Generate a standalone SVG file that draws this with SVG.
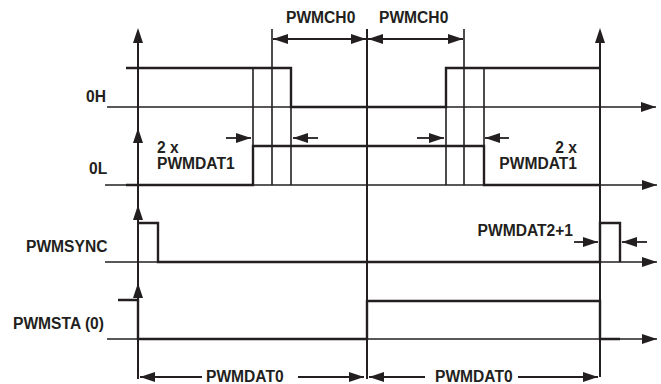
<svg xmlns="http://www.w3.org/2000/svg" width="661" height="384" viewBox="0 0 661 384">
<style>
text{font-family:"Liberation Sans",Arial,sans-serif;font-weight:bold;font-size:15.6px;fill:#231f20}
.ax{stroke:#231f20;stroke-width:1.3;fill:none}
.vax{stroke:#231f20;stroke-width:2;fill:none}
.sig{stroke:#231f20;stroke-width:2.4;fill:none;stroke-linejoin:miter}
.mk{stroke:#231f20;stroke-width:1.6;fill:none}
.dim{stroke:#231f20;stroke-width:1.8;fill:none}
.ah{fill:#231f20}
</style>
<defs>
<marker id="arr" markerUnits="userSpaceOnUse" markerWidth="15" markerHeight="10" refX="15" refY="5" orient="auto-start-reverse" viewBox="0 0 15 10">
<path d="M0,0 L15,5 L0,10 z" fill="#231f20"/>
</marker>
<path id="up" d="M0,0 L5,15 L-5,15 z"/>
</defs>
<rect width="661" height="384" fill="#fff"/>
<g id="axes">
<line class="ax" x1="107" y1="107" x2="656" y2="107" marker-end="url(#arr)"/>
<line class="ax" x1="105" y1="185" x2="657" y2="185" marker-end="url(#arr)"/>
<line class="ax" x1="105" y1="262" x2="657" y2="262" marker-end="url(#arr)"/>
<line class="ax" x1="107" y1="339" x2="657" y2="339" marker-end="url(#arr)"/>
<line class="vax" x1="138" y1="379" x2="138" y2="36"/>
<use href="#up" x="138" y="28" class="ah"/>
<use href="#up" x="138" y="128" class="ah"/>
<use href="#up" x="138" y="205" class="ah"/>
<use href="#up" x="138" y="283" class="ah"/>
<line class="vax" x1="600" y1="377" x2="600" y2="36"/>
<use href="#up" x="600" y="28" class="ah"/>
</g>
<g id="markers">
<line class="mk" x1="253" y1="68" x2="253" y2="185"/>
<line class="mk" x1="272" y1="29" x2="272" y2="185"/>
<line class="mk" x1="291" y1="68" x2="291" y2="185"/>
<line class="vax" x1="367" y1="29" x2="367" y2="379"/>
<line class="mk" x1="446" y1="68" x2="446" y2="185"/>
<line class="mk" x1="464" y1="29" x2="464" y2="185"/>
<line class="mk" x1="484" y1="68" x2="484" y2="185"/>
</g>
<g id="signal-0H">
<path class="sig" d="M126,68 H291 V107 H446 V68 H600"/>
<text x="86" y="102">0H</text>
</g>
<g id="signal-0L">
<path class="sig" d="M126,185 H253 V146 H484 V185 H600"/>
<text x="89" y="174">0L</text>
</g>
<g id="signal-PWMSYNC">
<path class="sig" d="M138,223 H158 V262 H600 V223 H620 V262"/>
<text x="26" y="252">PWMSYNC</text>
</g>
<g id="signal-PWMSTA">
<path class="sig" d="M118,300 H138 V339 H367 V301 H600 V339 H620"/>
<text x="13" y="329">PWMSTA (0)</text>
</g>
<g id="connectors">
<line class="dim" x1="273" y1="39" x2="366" y2="39" marker-start="url(#arr)" marker-end="url(#arr)"/>
<line class="dim" x1="368" y1="39" x2="463" y2="39" marker-start="url(#arr)" marker-end="url(#arr)"/>
<line class="dim" x1="226" y1="138" x2="251" y2="138" marker-end="url(#arr)"/>
<line class="dim" x1="318" y1="138" x2="293" y2="138" marker-end="url(#arr)"/>
<line class="dim" x1="417" y1="138" x2="444" y2="138" marker-end="url(#arr)"/>
<line class="dim" x1="509" y1="138" x2="485" y2="138" marker-end="url(#arr)"/>
<line class="dim" x1="574" y1="242" x2="598" y2="242" marker-end="url(#arr)"/>
<line class="dim" x1="647" y1="242" x2="622" y2="242" marker-end="url(#arr)"/>
<line class="dim" x1="202" y1="377" x2="140" y2="377" marker-end="url(#arr)"/>
<line class="dim" x1="298" y1="377" x2="364" y2="377" marker-end="url(#arr)"/>
<line class="dim" x1="425" y1="377" x2="369" y2="377" marker-end="url(#arr)"/>
<line class="dim" x1="518" y1="377" x2="598" y2="377" marker-end="url(#arr)"/>
</g>
<g id="labels">
<text x="286" y="23">PWMCH0</text>
<text x="379" y="23">PWMCH0</text>
<text x="157" y="153">2 x</text>
<text x="157" y="168.5">PWMDAT1</text>
<text x="577" y="153" text-anchor="end">2 x</text>
<text x="577" y="168.5" text-anchor="end">PWMDAT1</text>
<text x="573" y="236" text-anchor="end">PWMDAT2+1</text>
<text x="206" y="381.5">PWMDAT0</text>
<text x="435" y="381.5">PWMDAT0</text>
</g>
</svg>
